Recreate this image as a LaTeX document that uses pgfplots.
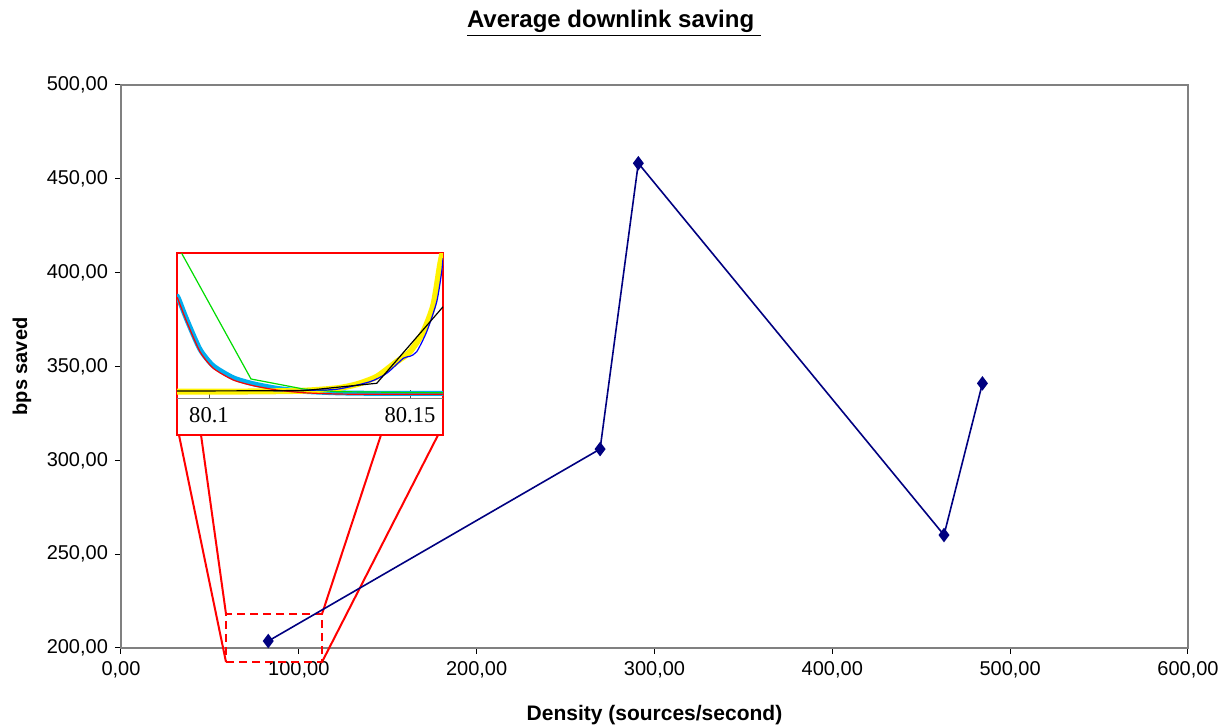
\documentclass[border=0pt]{standalone}
\usepackage{pgfplots}
\pgfplotsset{compat=1.18}
\usepackage{fontspec}
\setmainfont{Liberation Sans}
\newfontfamily\timesf{Liberation Serif}
\definecolor{navy}{RGB}{0,0,128}
\definecolor{framegray}{RGB}{128,128,128}
\definecolor{insetgreen}{RGB}{0,220,0}
\begin{document}
\begin{tikzpicture}
\begin{axis}[
  name=main,
  at={(0,0)}, anchor=south west,
  scale only axis,
  width=533.5pt, height=281.5pt,
  xmin=0, xmax=600, ymin=200, ymax=500,
  xtick={0,100,...,600}, ytick={200,250,...,500},
  axis line style={draw=framegray, line width=1pt},
  tick style={black, line width=0.5pt},
  tick align=outside,
  major tick length=3pt,
  xtick pos=bottom, ytick pos=left,
  clip=false,
  ticklabel style={font=\fontsize{10}{12}\selectfont},
  /pgf/number format/fixed,
  /pgf/number format/fixed zerofill,
  /pgf/number format/precision=2,
  /pgf/number format/use comma,
  /pgf/number format/1000 sep={},
  /pgf/number format/assume math mode=true,
  title={\underline{\textbf{Average downlink saving}\ }},
  title style={at={(axis description cs:0.462,1.1155)}, anchor=center, yshift=-7.5pt, font=\fontsize{12}{14}\selectfont},
  xlabel={\textbf{Density (sources/second)}},
  xlabel style={at={(axis description cs:0.5,-0.119)}, anchor=center, font=\fontsize{10.5}{12}\selectfont},
  ylabel={\textbf{bps saved}},
  ylabel style={at={(axis description cs:-0.0928,0.5)}, anchor=center, font=\fontsize{10}{12}\selectfont},
]
% connector lines and zoom window
\addplot[red, line width=1pt, forget plot] coordinates {(32.6,313.5) (59.05,192.5)};
\addplot[red, line width=1pt, forget plot] coordinates {(45.0,313.5) (59.05,218.1)};
\addplot[red, line width=1pt, forget plot] coordinates {(146.2,313.5) (113.03,218.1)};
\addplot[red, line width=1pt, forget plot] coordinates {(178.3,313.5) (113.03,192.5)};
\addplot[red, line width=1pt, dash pattern=on 4pt off 2.5pt, forget plot] coordinates {(59.05,192.5) (113.03,192.5) (113.03,218.1) (59.05,218.1) (59.05,192.5)};
% inset frame
\addplot[red, line width=1pt, fill=white, forget plot] coordinates {(31.49,313.5) (181.07,313.5) (181.07,410.47) (31.49,410.47) (31.49,313.5)} -- cycle;
% main series
\addplot[navy, line width=0.8pt, mark=diamond*, mark size=3pt, mark options={fill=navy, draw=navy}] coordinates {
  (82.8,203.7) (269.4,306.0) (290.9,458.3) (462.8,260.2) (484.4,341.0)
};
\end{axis}
\begin{axis}[
  at={(28pt,124.85pt)}, anchor=south west,
  scale only axis,
  width=133pt, height=72.5pt,
  xmin=92.04, xmax=158.2, ymin=0, ymax=145,
  axis x line=bottom, axis y line=none,
  x axis line style={draw=framegray, line width=0.6pt, -},
  xtick={100,150}, xticklabels={80.1,80.15},
  tick align=inside, major tick length=4pt,
  tick style={black!70, line width=0.5pt},
  xticklabel style={font=\timesf\fontsize{11.3}{13}\selectfont, yshift=-1pt},
  clip=true,
]
\addplot[cyan, line width=2.5pt, smooth, tension=0.4] coordinates {
  (92.04,102) (92.4,100) (94.45,79) (97.76,49) (101.07,32.5) (106.04,20.5) (111.02,14.5) (116.84,10) (123.46,7) (131.77,5.5) (140,5) (158.2,5)
};
\addplot[yellow, line width=3pt, smooth, tension=0.4] coordinates {
  (92.04,6.6) (110,6.8) (123,7.5) (131.77,10) (136.74,14) (141.72,21.6) (146.69,36.6) (150,46.6) (153.31,66.6) (155.8,93.3) (157.46,133.3) (158.2,148)
};
\addplot[insetgreen, line width=0.6pt] coordinates {
  (93.2,145) (110.45,19.3) (123.46,9.3) (131.77,6.6) (158.2,5.5)
};
\addplot[red, line width=0.6pt, smooth, tension=0.4] coordinates {
  (92.04,101) (92.36,98.3) (94.45,76.6) (97.76,46.6) (101.07,30) (106.04,18.3) (111.02,12.6) (116.84,8.3) (123.46,5.6) (131.77,4.3) (140.05,4) (158.2,4)
};
\addplot[blue, line width=0.6pt, smooth, tension=0.4] coordinates {
  (116,7.5) (123.46,8) (131.77,9) (140.05,16.6) (144.2,25) (148.33,40) (150,42) (151.67,46.6) (154.15,66.6) (156.64,96.6) (157.88,126.6) (158.2,140)
};
\addplot[black, line width=0.6pt] coordinates {
  (92.04,7.3) (123.46,7.6) (141.72,15) (157.88,90) (158.2,91.5)
};
\end{axis}
\pgfresetboundingbox
\path (-60.5pt,-39.5pt) rectangle (553.5pt,324pt);
\end{tikzpicture}
\end{document}
